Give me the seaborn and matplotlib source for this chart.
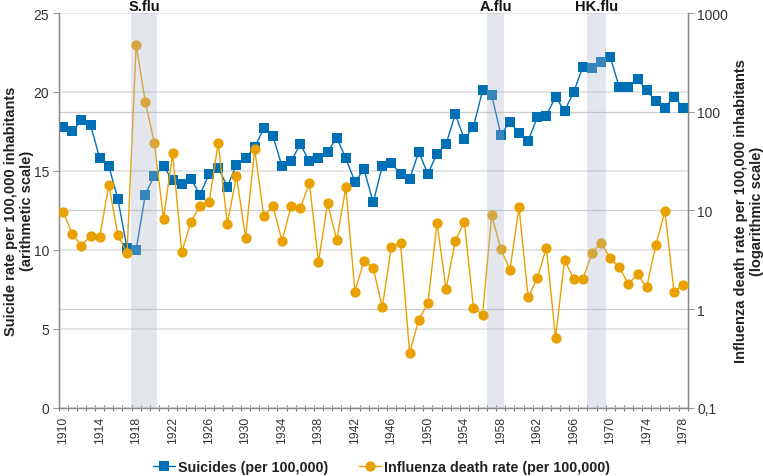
import numpy as np
import pandas as pd
import matplotlib
matplotlib.use("Agg")
import matplotlib.pyplot as plt
from matplotlib.lines import Line2D
import seaborn as sns

years = list(range(1910, 1979))
suicides = [17.8, 17.5, 18.2, 17.9, 15.8, 15.3, 13.2, 10.1, 10.0, 13.5,
            14.7, 15.3, 14.4, 14.2, 14.5, 13.5, 14.8, 15.2, 14.0, 15.4,
            15.8, 16.5, 17.7, 17.2, 15.3, 15.6, 16.7, 15.6, 15.8, 16.2,
            17.1, 15.8, 14.3, 15.1, 13.0, 15.3, 15.5, 14.8, 14.5, 16.2,
            14.8, 16.1, 16.7, 18.6, 17.0, 17.8, 20.1, 19.8, 17.3, 18.1,
            17.4, 16.9, 18.4, 18.5, 19.7, 18.8, 20.0, 21.6, 21.5, 21.9,
            22.2, 20.3, 20.3, 20.8, 20.1, 19.4, 19.0, 19.7, 19.0]
influenza = [9.7, 5.7, 4.4, 5.5, 5.4, 18.0, 5.6, 3.7, 476, 126,
             48, 8.2, 38, 3.75, 7.6, 11.1, 12.1, 48, 7.3, 22.3,
             5.3, 41.8, 8.7, 11.0, 4.9, 11.1, 10.5, 18.9, 3.0, 11.8,
             5.0, 17.1, 1.5, 3.1, 2.6, 1.05, 4.3, 4.7, 0.36, 0.78,
             1.14, 7.4, 1.6, 4.9, 7.7, 1.03, 0.88, 8.9, 4.05, 2.5,
             10.7, 1.31, 2.06, 4.2, 0.51, 3.16, 2.0, 2.0, 3.7, 4.7,
             3.26, 2.64, 1.79, 2.26, 1.66, 4.45, 9.8, 1.5, 1.76]
flu_labels = ["S.flu", "A.flu", "HK.flu"]
flu_start = [1917.4, 1956.5, 1967.5]
flu_end = [1920.3, 1958.4, 1969.5]
left_ticks = [0, 5, 10, 15, 20, 25]
right_ticks = [0.1, 1, 10, 100, 1000]
right_ticklabels = ["0,1", "1", "10", "100", "1000"]

df = pd.DataFrame({"year": years, "suicides": suicides, "influenza": influenza})

sns.set_theme(style="white")
plt.rcParams["font.family"] = ["Liberation Sans", "DejaVu Sans"]

BLUE = "#0070b6"
ORANGE = "#e9a102"
SPAN = "#aab4c8"

fig = plt.figure(figsize=(7.63, 4.77), dpi=100)
ax1 = fig.add_axes([0.0769, 0.1432, 0.8244, 0.8274])
ax2 = ax1.twinx()

sns.lineplot(data=df, x="year", y="suicides", ax=ax1, color=BLUE, marker="s",
             markersize=6.6, markeredgewidth=0, linewidth=1.0, zorder=3)
sns.lineplot(data=df, x="year", y="influenza", ax=ax2, color=ORANGE, marker="o",
             markersize=7.4, markeredgewidth=0, linewidth=1.0, zorder=3)

ax1.set_xlim(1909.5, 1978.5)
ax1.set_ylim(0, 25)
ax2.set_yscale("log")
ax2.set_ylim(0.1, 1000)

# x ticks
ax1.set_xticks(years[::4])
ax1.set_xticklabels([str(y) for y in years[::4]], rotation=90, fontsize=8.7, color="#333333")
ax1.set_xticks([y - 0.5 for y in years] + [1978.5], minor=True)
ax1.tick_params(axis="x", which="major", length=0, pad=6)
ax1.tick_params(axis="x", which="minor", length=5, width=0.8, color="#777777", direction="inout", bottom=True)

# left y
ax1.set_yticks(left_ticks)
ax1.set_yticklabels([str(t) for t in left_ticks], fontsize=10, color="#333333")
ax1.tick_params(axis="y", which="major", length=4, width=0.8, color="#999999", left=True, pad=3)
# gridlines for the right log axis, drawn on ax1 so they stay beneath the marks
ax1.set_yticks([6.25, 12.5, 18.75], minor=True)
ax1.tick_params(axis="y", which="minor", length=0)
ax1.grid(axis="y", which="major", color="#e3e3e3", linewidth=1.3)
ax1.grid(axis="y", which="minor", color="#cccccc", linewidth=0.9)
ax1.grid(axis="x", visible=False)

# right y
ax2.set_yticks(right_ticks)
ax2.set_yticklabels(right_ticklabels, fontsize=10, color="#333333")
ax2.yaxis.set_minor_locator(matplotlib.ticker.NullLocator())
ax2.tick_params(axis="y", which="major", length=4, width=0.8, color="#999999", right=True, pad=3)
ax2.grid(False)

for ax in (ax1, ax2):
    ax.spines["top"].set_visible(False)
    for s in ("left", "right", "bottom"):
        ax.spines[s].set_color("#888888")
        ax.spines[s].set_linewidth(0.9)

ax1.set_xlabel("")
ax1.set_ylabel("Suicide rate per 100,000 inhabitants\n(arithmetic scale)",
               fontsize=10.5, fontweight="bold", color="#222222", linespacing=1.2)
ax1.yaxis.set_label_coords(-0.039, 0.5)
ax2.set_ylabel("Influenza death rate per 100,000 inhabitants\n(logarithmic scale)",
               fontsize=10.5, fontweight="bold", color="#222222", linespacing=1.2)
ax2.yaxis.set_label_coords(1.073, 0.5)

# flu epidemic spans, drawn above the marks
trans = matplotlib.transforms.blended_transform_factory(ax2.transData, ax2.transAxes)
for lab, x0, x1 in zip(flu_labels, flu_start, flu_end):
    ax2.axvspan(x0, x1, color=SPAN, alpha=0.33, linewidth=0, zorder=6)
    ax2.text((x0 + x1) / 2, 1.007, lab, transform=trans, ha="center", va="baseline",
             fontsize=10.5, fontweight="bold", color="#111111")

handles = [
    Line2D([0], [0], color=BLUE, marker="s", markersize=6.6, markeredgewidth=0, linewidth=1.0),
    Line2D([0], [0], color=ORANGE, marker="o", markersize=7.4, markeredgewidth=0, linewidth=1.0),
]
fig.legend(handles, ["Suicides (per 100,000)", "Influenza death rate (per 100,000)"],
           loc="center", bbox_to_anchor=(0.5, 1 - 468 / 477), ncol=2, frameon=False,
           prop={"weight": "bold", "size": 10.3}, handlelength=1.5, handletextpad=0.2,
           columnspacing=2.2, labelcolor="#222222")
if ax1.get_legend():
    ax1.get_legend().remove()
if ax2.get_legend():
    ax2.get_legend().remove()

fig.savefig("out.png", dpi=100)
